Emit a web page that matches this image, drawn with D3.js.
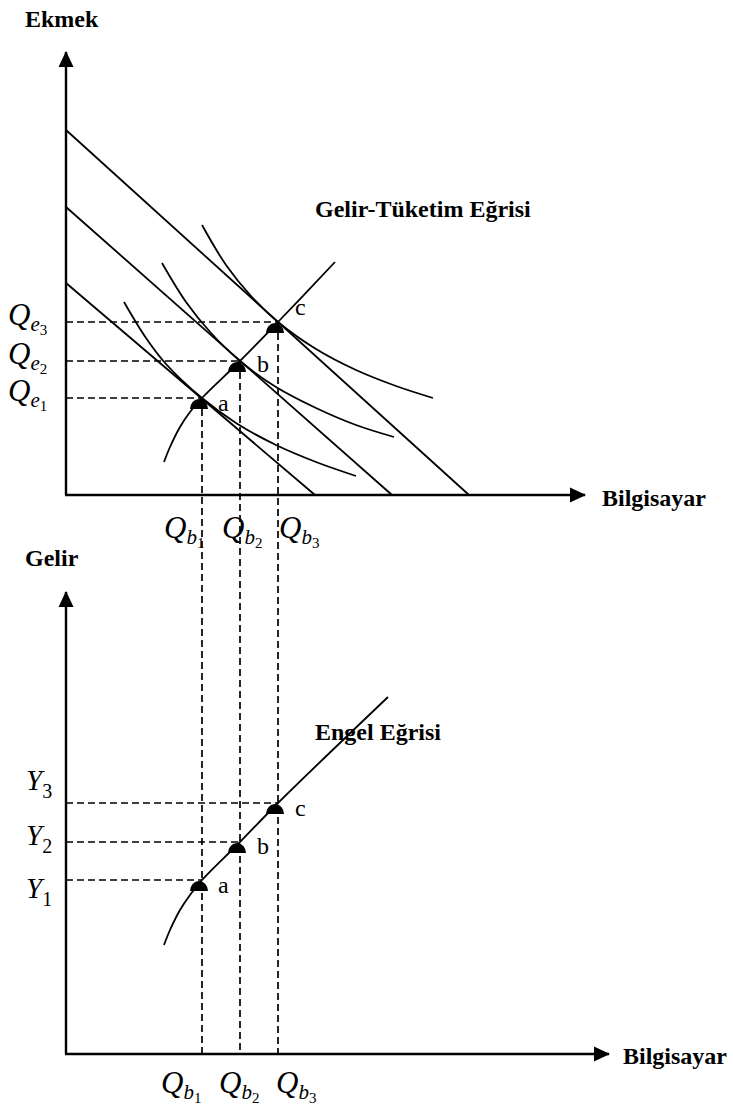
<!DOCTYPE html>
<html>
<head>
<meta charset="utf-8">
<script src="https://cdn.jsdelivr.net/npm/d3@7"></script>
<style>
body { margin: 0; background: #fff; }
svg text { font-family: "Liberation Serif", "Times New Roman", serif; fill: #000; }
.bold { font-weight: bold; font-size: 24px; }
</style>
</head>
<body>
<svg id="chart" width="733" height="1111"></svg>
<script>
// computer quantities at the three equilibria (shared by both panels)
var qb = [13.6, 17.4, 21.2];
var subs = ["1", "2", "3"];
var pointNames = ["a", "b", "c"];

// upper panel : bread quantities at a, b, c
var qe = [9.7, 13.4, 17.3];
// budget lines : [bread intercept, computer intercept]
var budgets = [[21.2, 24.9], [28.8, 32.6], [36.5, 40.3]];
// indifference curves [computer, bread]
var u1 = [[5.8, 19.3], [8, 15.7], [10, 13.1], [13.6, 9.7], [17, 7.2], [21, 5.0], [25, 3.3], [29, 1.9]];
var u2 = [[9.6, 23.2], [12, 19.3], [14.5, 16.2], [17.4, 13.4], [21, 10.8], [25, 8.7], [29, 7.0], [32.8, 5.8]];
var u3 = [[13.6, 27.0], [16, 23.0], [18.5, 19.9], [21.2, 17.3], [25, 14.6], [29, 12.5], [33, 10.9], [36.7, 9.7]];
// income-consumption curve
var icc = [[9.8, 3.3], [10.4, 4.8], [11.4, 6.8], [12.4, 8.3], [13.6, 9.7], [17.4, 13.4], [21.2, 17.3], [26.9, 23.3]];

// lower panel : income levels and Engel curve [computer, income]
var incomes = [17.4, 21.2, 25.1];
var engel = [[9.8, 10.9], [10.4, 12.4], [11.4, 14.4], [12.4, 15.9], [13.6, 17.4], [17.4, 21.2], [21.2, 25.1], [32.2, 35.7]];

// axis extents
var topMax = [51.9, 44.3];
var botMax = [54.3, 46.2];

/////////////////////////////////////////////////////////////////////

var svg = d3.select("#chart");

var x = d3.scaleLinear().domain([0, 10]).range([66, 166]);
var yTop = d3.scaleLinear().domain([0, 10]).range([495, 395]);
var yBot = d3.scaleLinear().domain([0, 10]).range([1054, 954]);

var defs = svg.append("defs");
defs.append("marker")
	.attr("id", "arrow")
	.attr("viewBox", "0 0 16 16")
	.attr("refX", 15)
	.attr("refY", 8)
	.attr("markerWidth", 16)
	.attr("markerHeight", 16)
	.attr("markerUnits", "userSpaceOnUse")
	.attr("orient", "auto")
	.append("path")
	.attr("d", "M0,0.5 L16,8 L0,15.5 Z")
	.attr("fill", "#000");

function drawAxes(y, max) {
	svg.append("line")
		.attr("x1", x(0)).attr("y1", y(0))
		.attr("x2", x(0)).attr("y2", y(max[1]))
		.attr("stroke", "#000").attr("stroke-width", 2.4)
		.attr("marker-end", "url(#arrow)");
	svg.append("line")
		.attr("x1", x(0) - 1).attr("y1", y(0))
		.attr("x2", x(max[0])).attr("y2", y(0))
		.attr("stroke", "#000").attr("stroke-width", 2.4)
		.attr("marker-end", "url(#arrow)");
}

function curve(y) {
	return d3.line()
		.x(function(d) { return x(d[0]); })
		.y(function(d) { return y(d[1]); })
		.curve(d3.curveCatmullRom.alpha(0.5));
}

function stroke(sel, w) {
	return sel.attr("fill", "none").attr("stroke", "#000").attr("stroke-width", w);
}

// dashed guides, drawn first so the curves sit on top
var dash = "7,4";
qb.forEach(function(q, i) {
	stroke(svg.append("line"), 1.7).attr("stroke-dasharray", dash)
		.attr("x1", x(0)).attr("x2", x(q))
		.attr("y1", yTop(qe[i])).attr("y2", yTop(qe[i]));
	stroke(svg.append("line"), 1.7).attr("stroke-dasharray", dash)
		.attr("x1", x(0)).attr("x2", x(q))
		.attr("y1", yBot(incomes[i])).attr("y2", yBot(incomes[i]));
	stroke(svg.append("line"), 1.7).attr("stroke-dasharray", dash)
		.attr("x1", x(q)).attr("x2", x(q))
		.attr("y1", yTop(qe[i])).attr("y2", yBot(0));
});

drawAxes(yTop, topMax);
drawAxes(yBot, botMax);

// budget lines
budgets.forEach(function(b) {
	stroke(svg.append("line"), 1.8)
		.attr("x1", x(0)).attr("y1", yTop(b[0]))
		.attr("x2", x(b[1])).attr("y2", yTop(0));
});

[u1, u2, u3].forEach(function(u) {
	stroke(svg.append("path"), 1.8).attr("d", curve(yTop)(u));
});
stroke(svg.append("path"), 1.8).attr("d", curve(yTop)(icc));
stroke(svg.append("path"), 1.8).attr("d", curve(yBot)(engel));

// half-disc markers and point letters
var topLetterOff = [[16, 13], [17, 11], [17, -7]];
var botLetterOff = [[16, 13], [17, 12], [17, 13]];
function marks(ys, y, off) {
	ys.forEach(function(v, i) {
		var cx = x(qb[i]) - 3, by = y(v) + 11;
		svg.append("path")
			.attr("d", "M" + (cx - 9) + "," + by + " A9,10 0 0 1 " + (cx + 9) + "," + by + " Z")
			.attr("fill", "#000");
		svg.append("text")
			.attr("x", x(qb[i]) + off[i][0])
			.attr("y", y(v) + off[i][1])
			.attr("font-size", 24)
			.text(pointNames[i]);
	});
}
marks(qe, yTop, topLetterOff);
marks(incomes, yBot, botLetterOff);

// symbol labels  Q_{e_i}, Q_{b_i}, Y_i
function qLabel(px, py, sub, digit) {
	var t = svg.append("text").attr("x", px).attr("y", py);
	t.append("tspan").attr("font-style", "italic").attr("font-size", 31).text("Q");
	t.append("tspan").attr("font-style", "italic").attr("font-size", 21).attr("dy", 6).text(sub);
	t.append("tspan").attr("font-size", 15).attr("dy", 4).text(digit);
}
qe.forEach(function(v, i) {
	qLabel(8, yTop(v) + 3, "e", subs[i]);
});
var qbOff = [-38, -18, 1];
qb.forEach(function(q, i) {
	qLabel(x(q) + qbOff[i], 538, "b", subs[i]);
	qLabel(x(q) + qbOff[i] - 3, 1093, "b", subs[i]);
});
var yLabelBase = [898, 845, 790];
incomes.forEach(function(v, i) {
	var t = svg.append("text").attr("x", 26).attr("y", yLabelBase[i]);
	t.append("tspan").attr("font-style", "italic").attr("font-size", 29).text("Y");
	t.append("tspan").attr("font-size", 20).attr("dy", 8).text(subs[i]);
});

// titles
svg.append("text").attr("class", "bold").attr("x", 25).attr("y", 27).text("Ekmek");
svg.append("text").attr("class", "bold").attr("x", 25).attr("y", 566).text("Gelir");
svg.append("text").attr("class", "bold").attr("x", 602).attr("y", yTop(0) + 11).text("Bilgisayar");
svg.append("text").attr("class", "bold").attr("x", 623).attr("y", yBot(0) + 10).text("Bilgisayar");
svg.append("text").attr("class", "bold").attr("x", 315).attr("y", 217).text("Gelir-Tüketim Eğrisi");
svg.append("text").attr("class", "bold").attr("x", 315).attr("y", 740).text("Engel Eğrisi");
</script>
</body>
</html>
